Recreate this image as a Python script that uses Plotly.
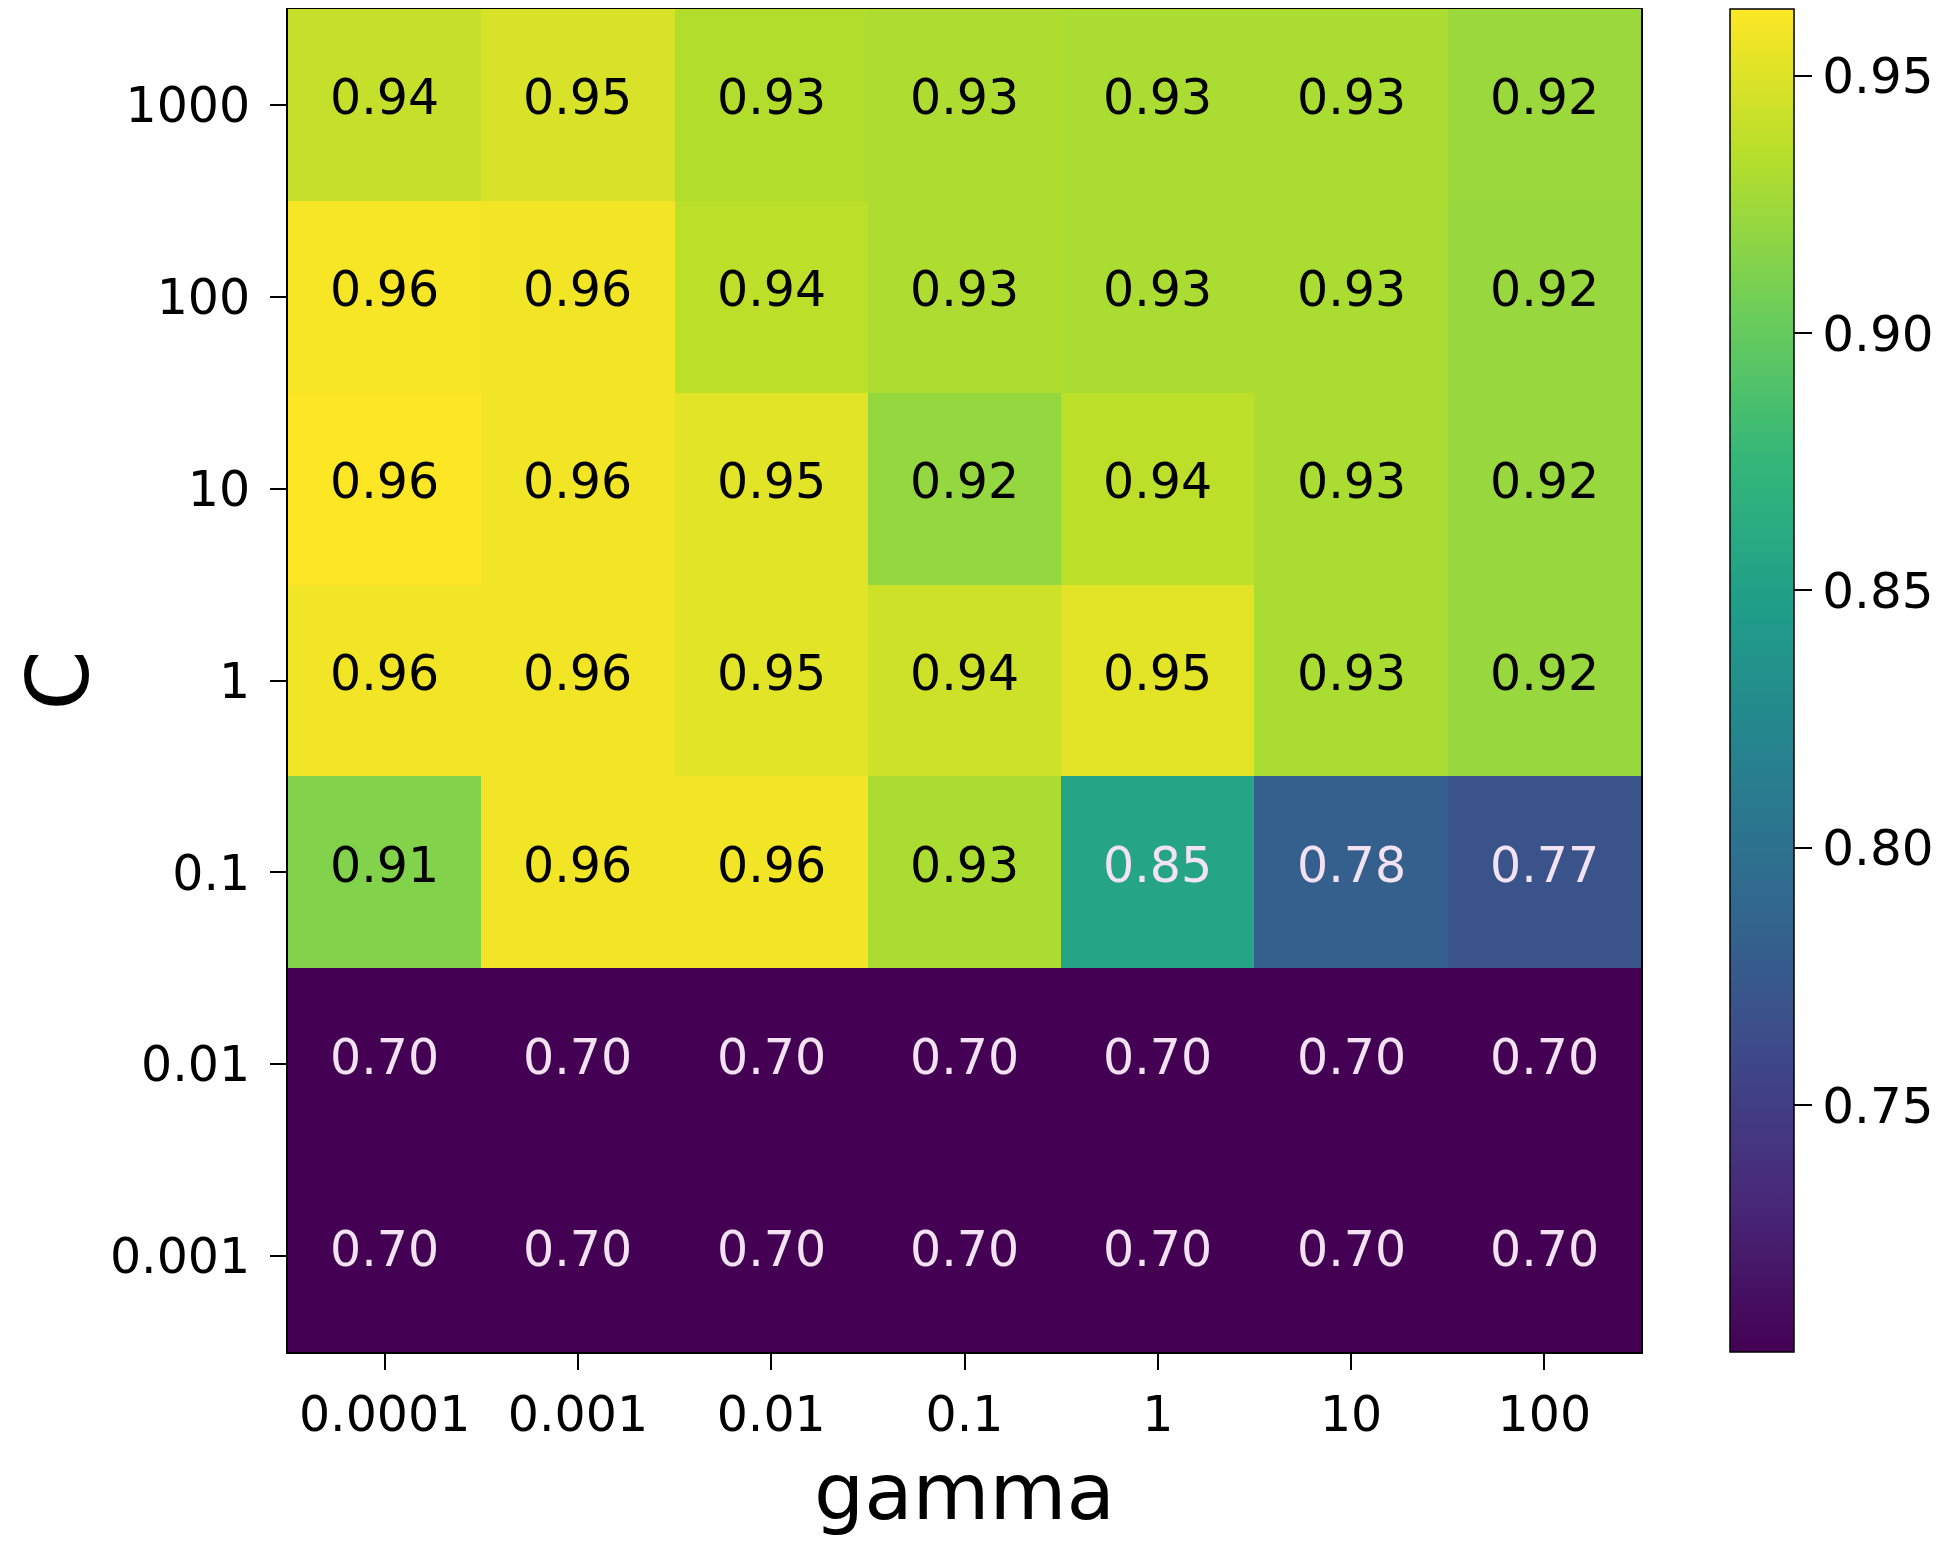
import plotly.graph_objects as go

gamma_labels = ["0.0001", "0.001", "0.01", "0.1", "1", "10", "100"]
C_labels = ["1000", "100", "10", "1", "0.1", "0.01", "0.001"]

# mean cross-validation accuracy, rows = C (top to bottom), cols = gamma
scores = [
    [0.940, 0.948, 0.933, 0.931, 0.930, 0.930, 0.923],
    [0.960, 0.958, 0.937, 0.931, 0.930, 0.930, 0.922],
    [0.963, 0.958, 0.952, 0.921, 0.937, 0.930, 0.922],
    [0.958, 0.958, 0.952, 0.944, 0.953, 0.930, 0.922],
    [0.913, 0.958, 0.958, 0.930, 0.855, 0.781, 0.770],
    [0.702, 0.702, 0.702, 0.702, 0.702, 0.702, 0.702],
    [0.702, 0.702, 0.702, 0.702, 0.702, 0.702, 0.702],
]

font_name = "DejaVu Sans"

fig = go.Figure(go.Heatmap(
    z=scores,
    x=gamma_labels,
    y=C_labels,
    colorscale="Viridis",
    showscale=True,
    colorbar=dict(
        thickness=64,
        len=1, lenmode="fraction", y=0.5, yanchor="middle",
        x=1.066, xanchor="left", xpad=0, ypad=0,
        outlinecolor="black", outlinewidth=1.5,
        ticks="outside", ticklen=18, tickwidth=2, tickcolor="black",
        tickvals=[0.75, 0.80, 0.85, 0.90, 0.95],
        ticktext=["0.75", "0.80", "0.85", "0.90", "0.95"],
        tickprefix="\u2009",
        tickfont=dict(family=font_name, size=50, color="black"),
    ),
))

lo = min(min(r) for r in scores)
hi = max(max(r) for r in scores)
for i, row in enumerate(scores):
    for j, v in enumerate(row):
        frac = (v - lo) / (hi - lo)
        # category index positions (numeric-looking labels would be read as indices)
        fig.add_annotation(
            x=j, y=i, xref="x", yref="y", yshift=7,
            text="%.2f" % v, showarrow=False,
            font=dict(family=font_name, size=49,
                      color="black" if frac > 0.6 else "#f2e2f2"),
        )

fig.update_layout(
    width=1950, height=1549,
    margin=dict(l=280, r=317, t=1, b=205),
    paper_bgcolor="white", plot_bgcolor="white",
    font=dict(family=font_name, color="black"),
    showlegend=False,
)
fig.update_xaxes(
    type="category", range=[-0.5, len(gamma_labels) - 0.5],
    automargin=False,
    showgrid=False, zeroline=False,
    showline=True, linecolor="black", linewidth=2, mirror=True,
    ticks="outside", ticklen=16, tickwidth=2, tickcolor="black",
    tickangle=0, ticklabelstandoff=2,
    tickfont=dict(family=font_name, size=49),
    title=dict(text="gamma", font=dict(family=font_name, size=79), standoff=22),
)
fig.update_yaxes(
    type="category", range=[len(C_labels) - 0.5, -0.5],
    automargin=False,
    showgrid=False, zeroline=False,
    showline=True, linecolor="black", linewidth=2, mirror=True,
    ticks="outside", ticklen=16, tickwidth=2, tickcolor="black",
    ticklabelstandoff=10,
    tickfont=dict(family=font_name, size=49),
    title=dict(text="C", font=dict(family=font_name, size=86), standoff=50),
)

fig.write_html("out.html")
